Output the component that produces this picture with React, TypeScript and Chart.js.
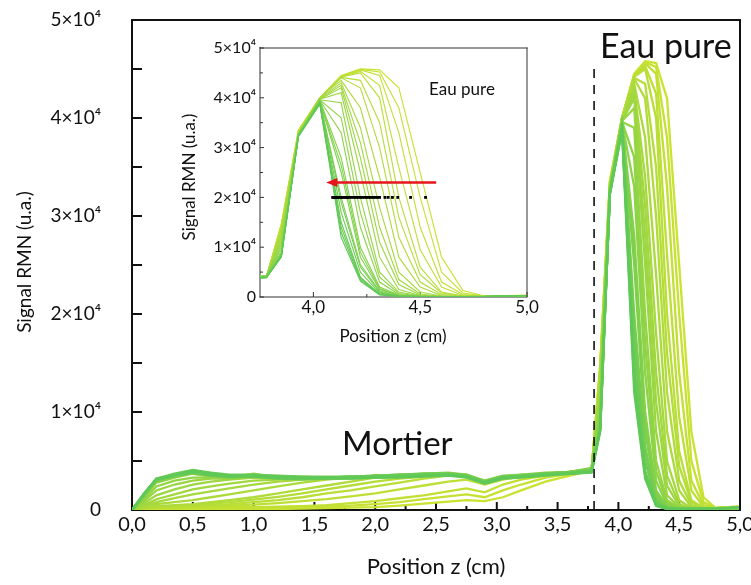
import React, { useEffect, useRef } from "react";
import { Chart, registerables } from "chart.js";

Chart.register(...registerables);

const FONT = "Lato, 'DejaVu Sans', sans-serif";

// Shared grid of positions (cm): mortar part then water-peak part
const positionsCm = [
  0, 0.1, 0.2, 0.35, 0.5, 0.65, 0.8, 1.0, 1.2, 1.4, 1.6, 1.8, 2.0, 2.2, 2.4, 2.6, 2.75, 2.9, 3.05, 3.2, 3.4, 3.6, 3.78,
  3.85, 3.93, 4.03, 4.13, 4.22, 4.31, 4.4, 4.5, 4.6, 4.7, 4.8, 4.9, 5.0,
];

// NMR profiles, named after their half-height front; earliest (yellow) first, latest (green) last
const front453 = [0, 100, 150, 100, 150, 100, 100, 150, 100, 150, 200, 250, 300, 450, 650, 850, 1000, 900, 1300, 2000, 2900, 3500, 4000,
  14800, 33500, 40000, 44500, 45800, 45600, 42000, 25000, 8000, 1300, 200, 300, 400];
const front450 = [0, 100, 200, 150, 200, 150, 200, 200, 250, 300, 350, 450, 600, 800, 1100, 1400, 1600, 1300, 2000, 2600, 3300, 3700, 4100,
  14600, 33500, 40000, 44400, 45700, 45200, 38000, 20000, 5000, 800, 200, 300, 300];
const front446 = [0, 150, 200, 200, 250, 250, 300, 300, 350, 400, 500, 700, 900, 1200, 1500, 1900, 2200, 1800, 2600, 3100, 3500, 3700, 4100,
  14500, 33500, 40000, 44300, 45600, 44500, 33000, 14000, 3000, 500, 200, 300, 300];
const front443 = [0, 150, 250, 250, 300, 400, 450, 550, 700, 900, 1100, 1400, 1700, 2100, 2500, 2900, 3100, 2600, 3100, 3400, 3600, 3800, 4200,
  14300, 33200, 40000, 44300, 45300, 42500, 26000, 9500, 2000, 300, 200, 300, 300];
const front440 = [0, 200, 300, 300, 400, 500, 600, 800, 1000, 1300, 1700, 2000, 2400, 2800, 3200, 3500, 3400, 2900, 3300, 3500, 3700, 3800, 4100,
  14000, 33000, 40000, 44200, 45000, 40000, 20000, 6000, 1000, 200, 200, 300, 300];
const front438 = [0, 200, 350, 400, 500, 650, 800, 1050, 1350, 1700, 2100, 2500, 2900, 3200, 3400, 3600, 3500, 2900, 3400, 3500, 3700, 3900, 4200,
  13800, 33000, 40000, 44100, 43500, 35000, 16000, 4500, 800, 200, 200, 300, 200];
const front436 = [0, 250, 400, 500, 600, 800, 1000, 1300, 1700, 2100, 2500, 2900, 3300, 3400, 3500, 3600, 3500, 2900, 3300, 3500, 3700, 3800, 4100,
  13500, 33000, 40000, 44000, 42000, 30000, 12000, 3000, 500, 200, 200, 300, 200];
const front433 = [0, 300, 600, 800, 1000, 1300, 1600, 2000, 2400, 2800, 3100, 3300, 3300, 3400, 3500, 3600, 3500, 2900, 3400, 3500, 3700, 3800, 4000,
  13000, 33000, 40000, 43500, 38000, 24000, 8000, 2000, 300, 100, 200, 200, 200];
const front430 = [0, 400, 800, 1200, 1600, 1900, 2200, 2600, 2900, 3100, 3200, 3300, 3400, 3500, 3600, 3600, 3500, 2900, 3400, 3500, 3700, 3900, 4200,
  12500, 33000, 39800, 43000, 34000, 18000, 5000, 1000, 200, 100, 200, 200, 200];
const front428 = [0, 500, 1100, 1600, 2100, 2400, 2700, 3000, 3100, 3200, 3300, 3300, 3400, 3500, 3600, 3700, 3500, 3000, 3400, 3500, 3700, 3900, 4100,
  12000, 33000, 39800, 42500, 31000, 14000, 3500, 600, 100, 100, 200, 200, 200];
const front426 = [0, 700, 1500, 2100, 2600, 2900, 3100, 3300, 3200, 3200, 3300, 3300, 3400, 3500, 3600, 3700, 3500, 2900, 3400, 3500, 3700, 3800, 4000,
  11500, 32800, 39700, 42000, 28000, 11000, 2500, 400, 100, 100, 100, 200, 200];
const front424 = [0, 900, 2000, 2600, 3000, 3200, 3200, 3400, 3300, 3200, 3300, 3300, 3400, 3500, 3600, 3700, 3600, 2900, 3400, 3500, 3700, 3900, 4200,
  11000, 32800, 39700, 41000, 25000, 8000, 1500, 300, 100, 100, 100, 200, 200];
const front422 = [0, 1100, 2400, 3000, 3300, 3300, 3300, 3700, 3300, 3200, 3300, 3400, 3400, 3500, 3600, 3600, 3500, 2900, 3400, 3500, 3700, 3900, 4100,
  10500, 32700, 39600, 39000, 20000, 5000, 1000, 200, 100, 100, 100, 200, 200];
const front420 = [0, 1300, 2800, 3300, 3700, 3400, 3300, 3500, 3300, 3200, 3300, 3300, 3500, 3500, 3600, 3700, 3500, 2900, 3400, 3500, 3700, 3900, 4200,
  10000, 32700, 39600, 36000, 17000, 4000, 700, 200, 100, 100, 100, 200, 200];
const front418 = [0, 1400, 2900, 3400, 3800, 3500, 3400, 3400, 3300, 3300, 3300, 3300, 3400, 3600, 3600, 3700, 3600, 2900, 3400, 3600, 3700, 3900, 4300,
  9500, 32600, 39500, 33000, 14000, 3000, 500, 100, 100, 100, 100, 200, 200];
const front416 = [0, 1400, 3000, 3500, 3900, 3500, 3400, 3500, 3300, 3300, 3200, 3300, 3400, 3500, 3700, 3700, 3500, 2900, 3400, 3500, 3700, 3800, 4100,
  9000, 32600, 39500, 28000, 10000, 2000, 400, 100, 100, 100, 100, 200, 200];
const front415 = [0, 1450, 3000, 3600, 4000, 3600, 3500, 3600, 3400, 3400, 3300, 3400, 3500, 3600, 3700, 3800, 3600, 3000, 3500, 3600, 3800, 3900, 4200,
  8900, 32500, 39400, 26500, 9000, 1700, 300, 100, 100, 100, 100, 200, 200];
const front414 = [0, 1500, 3000, 3400, 3800, 3600, 3400, 3400, 3300, 3300, 3300, 3300, 3500, 3500, 3600, 3600, 3500, 2800, 3300, 3500, 3600, 3800, 4000,
  8800, 32500, 39400, 25000, 8000, 1500, 300, 100, 100, 100, 100, 200, 200];
const front4125 = [0, 1500, 3100, 3500, 3900, 3500, 3300, 3400, 3200, 3100, 3200, 3200, 3300, 3400, 3500, 3600, 3400, 2700, 3200, 3400, 3600, 3700, 3900,
  8400, 32400, 39300, 20000, 6500, 1200, 200, 100, 100, 100, 100, 200, 200];
const front412 = [0, 1500, 3000, 3500, 3900, 3600, 3400, 3500, 3300, 3200, 3300, 3400, 3400, 3500, 3600, 3700, 3500, 2800, 3300, 3500, 3700, 3800, 4000,
  8500, 32500, 39300, 19000, 6000, 1000, 200, 100, 100, 100, 100, 200, 200];
const front411 = [0, 1600, 3100, 3600, 4000, 3600, 3500, 3500, 3400, 3300, 3300, 3400, 3400, 3500, 3600, 3600, 3500, 2800, 3300, 3400, 3700, 3800, 3900,
  8300, 32400, 39200, 17000, 5000, 800, 200, 100, 100, 100, 100, 200, 300];
const front4105 = [0, 1650, 3200, 3700, 4100, 3800, 3600, 3600, 3500, 3400, 3400, 3400, 3500, 3600, 3700, 3700, 3500, 2900, 3400, 3500, 3700, 3900, 4100,
  8150, 32300, 38900, 14000, 3800, 600, 100, 100, 100, 100, 100, 200, 300];
const front410 = [0, 1600, 3100, 3500, 3900, 3700, 3500, 3500, 3300, 3300, 3300, 3300, 3400, 3400, 3500, 3600, 3400, 2800, 3300, 3400, 3600, 3800, 3900,
  8200, 32400, 39000, 15000, 4000, 600, 200, 100, 100, 100, 100, 200, 300];
const front4095 = [0, 1700, 3100, 3500, 3800, 3500, 3400, 3400, 3200, 3200, 3200, 3200, 3300, 3300, 3400, 3500, 3300, 2700, 3200, 3300, 3500, 3700, 3800,
  8000, 32200, 38700, 12000, 3200, 400, 100, 100, 100, 100, 100, 200, 300];
const front409 = [0, 1700, 3200, 3600, 4000, 3700, 3500, 3500, 3400, 3300, 3300, 3300, 3400, 3400, 3500, 3600, 3400, 2800, 3300, 3400, 3600, 3700, 3900,
  8100, 32300, 38800, 13000, 3500, 500, 100, 100, 100, 100, 100, 200, 300];

const profiles = [
  front453, front450, front446, front443, front440, front438, front436, front433, front430, front428, front426, front424,
  front422, front420, front418, front416, front415, front414, front4125, front412, front411, front4105, front410, front4095, front409,
];

// Half-height front positions (black dots in the inset)
const halfHeightPositions = [
  4.09, 4.095, 4.1, 4.105, 4.11, 4.115, 4.12, 4.13, 4.135, 4.14, 4.15, 4.155, 4.16, 4.17, 4.18, 4.19, 4.2,
  4.21, 4.22, 4.23, 4.24, 4.25, 4.26, 4.27, 4.28, 4.29, 4.3, 4.31, 4.335, 4.35, 4.37, 4.395, 4.455, 4.525,
];
const halfHeightLevel = 20000;

const interfacePosition = 3.8;
const interfaceTop = 45000;

const arrowFrom = 4.575;
const arrowTo = 4.06;
const arrowLevel = 23000;

const mainXTicks = [0, 0.5, 1.0, 1.5, 2.0, 2.5, 3.0, 3.5, 4.0, 4.5, 5.0];
const mainYTicks = [0, 10000, 20000, 30000, 40000, 50000];
const insetXTicks = [4.0, 4.5, 5.0];
const insetYTicks = [0, 10000, 20000, 30000, 40000, 50000];

const yellowRGB = [202, 226, 48];
const greenRGB = [94, 200, 88];

function profileColor(i: number) {
  const t = i / (profiles.length - 1);
  const c = yellowRGB.map((y, k) => Math.round(y + (greenRGB[k] - y) * t));
  return `rgb(${c[0]},${c[1]},${c[2]})`;
}

function sciLabel(v: number) {
  return v === 0 ? "0" : `${Math.round(v / 10000)}×10⁴`;
}
function commaLabel(v: number) {
  return Number(v).toFixed(1).replace(".", ",");
}

function profileDatasets(width: number) {
  return profiles.map((p, i) => ({
    type: "line" as const,
    data: p.map((v, k) => ({ x: positionsCm[k], y: v })),
    borderColor: profileColor(i),
    backgroundColor: profileColor(i),
    borderWidth: width,
    pointRadius: 0,
    tension: 0,
    fill: false,
    order: profiles.length - i,
  }));
}

type DecoOpts = {
  color: string;
  frame: [number, number, number, number]; // left, top, right, bottom widths
  xMajorLen: number;
  xMinorLen: number;
  yMajorLen: number;
  yMinorLen: number;
  tickWidth: number;
};

function frameBox(chart: any) {
  const xs = chart.scales.x;
  const ys = chart.scales.y;
  return {
    xs,
    ys,
    L: Math.round(xs.getPixelForValue(xs.min)),
    R: Math.round(xs.getPixelForValue(xs.max)),
    T: Math.round(ys.getPixelForValue(ys.max)),
    B: Math.round(ys.getPixelForValue(ys.min)),
  };
}

function decorPlugin(o: DecoOpts) {
  return {
    id: "decor",
    beforeDatasetsDraw(chart: any) {
      const ctx = chart.ctx;
      const { xs, ys, L, R, T, B } = frameBox(chart);
      ctx.save();
      ctx.strokeStyle = o.color;
      ctx.lineWidth = o.tickWidth;
      const xv = xs.ticks.map((t: any) => t.value);
      const yv = ys.ticks.map((t: any) => t.value);
      const vline = (v: number, len: number) => {
        const px = xs.getPixelForValue(v);
        ctx.beginPath();
        ctx.moveTo(px, B);
        ctx.lineTo(px, B - len);
        ctx.stroke();
      };
      const hline = (v: number, len: number) => {
        const py = ys.getPixelForValue(v);
        ctx.beginPath();
        ctx.moveTo(L, py);
        ctx.lineTo(L + len, py);
        ctx.stroke();
      };
      xv.forEach((v: number, i: number) => {
        vline(v, o.xMajorLen);
        if (i > 0) vline((v + xv[i - 1]) / 2, o.xMinorLen);
      });
      yv.forEach((v: number, i: number) => {
        hline(v, o.yMajorLen);
        if (i > 0) hline((v + yv[i - 1]) / 2, o.yMinorLen);
      });
      const [l, , , b] = o.frame;
      ctx.fillStyle = o.color;
      ctx.fillRect(L - l / 2, T - 1, l, B - T + 1 + b / 2);
      ctx.fillRect(L - l / 2, B - b / 2, R - L + l / 2, b);
      ctx.restore();
    },
    afterDraw(chart: any) {
      const ctx = chart.ctx;
      const { L, R, T, B } = frameBox(chart);
      const [l, t, r, b] = o.frame;
      ctx.save();
      ctx.fillStyle = o.color;
      ctx.fillRect(L - l / 2, T - t / 2, R - L + l / 2 + r / 2, t);
      ctx.fillRect(R - r / 2, T - t / 2, r, B - T + t / 2 + b / 2);
      ctx.restore();
    },
  };
}

type TextItem = { text: string; x: number; y: number; size: number; align?: CanvasTextAlign; baseline?: CanvasTextBaseline; rotate?: boolean };

function textPlugin(items: TextItem[]) {
  return {
    id: "texts",
    afterDraw(chart: any) {
      const ctx = chart.ctx;
      items.forEach((it) => {
        ctx.save();
        ctx.fillStyle = "#111";
        ctx.font = `${it.size}px ${FONT}`;
        ctx.textAlign = it.align || "center";
        ctx.textBaseline = it.baseline || "middle";
        ctx.translate(it.x, it.y);
        if (it.rotate) ctx.rotate(-Math.PI / 2);
        ctx.fillText(it.text, 0, 0);
        ctx.restore();
      });
    },
  };
}

const arrowPlugin = {
  id: "arrow",
  afterDatasetsDraw(chart: any) {
    const { ctx, scales } = chart;
    const x1 = scales.x.getPixelForValue(arrowFrom);
    const x2 = scales.x.getPixelForValue(arrowTo);
    const y = scales.y.getPixelForValue(arrowLevel);
    ctx.save();
    ctx.strokeStyle = "#e5151b";
    ctx.fillStyle = "#e5151b";
    ctx.lineWidth = 2.4;
    ctx.beginPath();
    ctx.moveTo(x1, y);
    ctx.lineTo(x2 + 9, y);
    ctx.stroke();
    ctx.beginPath();
    ctx.moveTo(x2, y);
    ctx.lineTo(x2 + 11, y - 4.5);
    ctx.lineTo(x2 + 11, y + 4.5);
    ctx.closePath();
    ctx.fill();
    ctx.restore();
  },
};

function axisScales(o: {
  xMin: number; xMax: number; xTicks: number[]; yTicks: number[];
  xHeight: number; yWidth: number; xSize: number; ySize: number; xPad: number; yPad: number;
}) {
  return {
    x: {
      type: "linear" as const,
      min: o.xMin,
      max: o.xMax,
      afterBuildTicks: (s: any) => { s.ticks = o.xTicks.map((value) => ({ value })); },
      afterFit: (s: any) => { s.height = o.xHeight; s.paddingLeft = 0; s.paddingRight = 0; },
      grid: { display: false, drawTicks: false },
      border: { display: false },
      ticks: {
        padding: o.xPad,
        autoSkip: false,
        maxRotation: 0,
        color: "#111",
        font: { family: FONT, size: o.xSize },
        callback: (v: any) => commaLabel(Number(v)),
      },
    },
    y: {
      type: "linear" as const,
      min: 0,
      max: 50000,
      afterBuildTicks: (s: any) => { s.ticks = o.yTicks.map((value) => ({ value })); },
      afterFit: (s: any) => { s.width = o.yWidth; s.paddingTop = 0; s.paddingBottom = 0; },
      grid: { display: false, drawTicks: false },
      border: { display: false },
      ticks: {
        padding: o.yPad,
        autoSkip: false,
        color: "#111",
        font: { family: FONT, size: o.ySize },
        callback: (v: any) => sciLabel(Number(v)),
      },
    },
  };
}

export default function App() {
  const mainRef = useRef<HTMLCanvasElement>(null);
  const insetRef = useRef<HTMLCanvasElement>(null);

  useEffect(() => {
    const main = new Chart(mainRef.current as HTMLCanvasElement, {
      type: "line",
      data: {
        datasets: [
          ...profileDatasets(2.3),
          {
            type: "line",
            data: [{ x: interfacePosition, y: 0 }, { x: interfacePosition, y: interfaceTop }],
            borderColor: "#111",
            borderWidth: 1.6,
            borderDash: [9, 7],
            pointRadius: 0,
            order: 0,
          },
        ] as any,
      },
      options: {
        animation: false,
        responsive: false,
        devicePixelRatio: 1,
        layout: { padding: { top: 20, right: 11, bottom: 0, left: 0 } },
        plugins: { legend: { display: false }, tooltip: { enabled: false } },
        scales: axisScales({
          xMin: 0, xMax: 5, xTicks: mainXTicks, yTicks: mainYTicks,
          xHeight: 75, yWidth: 132, xSize: 20, ySize: 19, xPad: 3, yPad: 31,
        }) as any,
      },
      plugins: [
        decorPlugin({ color: "#111", frame: [2, 2, 2, 2], xMajorLen: 8, xMinorLen: 4, yMajorLen: 10, yMinorLen: 10, tickWidth: 2 }),
        textPlugin([
          { text: "Position z (cm)", x: 436, y: 567, size: 22 },
          { text: "Signal RMN (u.a.)", x: 25, y: 262, size: 19, rotate: true },
          { text: "Eau pure", x: 600, y: 58, size: 34, align: "left", baseline: "alphabetic" },
          { text: "Mortier", x: 342, y: 455, size: 33, align: "left", baseline: "alphabetic" },
        ]),
      ],
    });

    const inset = new Chart(insetRef.current as HTMLCanvasElement, {
      type: "line",
      data: {
        datasets: [
          ...profileDatasets(1.1),
          {
            type: "line",
            data: halfHeightPositions.map((x) => ({ x, y: halfHeightLevel })),
            showLine: false,
            pointStyle: "rect",
            pointRadius: 2,
            pointBorderWidth: 0,
            backgroundColor: "#000",
            borderColor: "#000",
            order: 0,
          },
        ] as any,
      },
      options: {
        animation: false,
        responsive: false,
        devicePixelRatio: 1,
        layout: { padding: { top: 18, right: 13, bottom: 0, left: 0 } },
        plugins: { legend: { display: false }, tooltip: { enabled: false } },
        scales: axisScales({
          xMin: 3.75, xMax: 5, xTicks: insetXTicks, yTicks: insetYTicks,
          xHeight: 53, yWidth: 90, xSize: 17, ySize: 16, xPad: 0, yPad: 4,
        }) as any,
      },
      plugins: [
        decorPlugin({ color: "#333", frame: [1, 1, 1, 1], xMajorLen: 5, xMinorLen: 3, yMajorLen: 4, yMinorLen: 3, tickWidth: 1 }),
        arrowPlugin,
        textPlugin([
          { text: "Position z (cm)", x: 223, y: 307, size: 17 },
          { text: "Signal RMN (u.a.)", x: 20, y: 147, size: 17, rotate: true },
          { text: "Eau pure", x: 292, y: 60, size: 17 },
        ]),
      ],
    });

    return () => {
      main.destroy();
      inset.destroy();
    };
  }, []);

  return (
    <div style={{ position: "absolute", left: 0, top: 0, width: 751, height: 585, background: "#fff" }}>
      <canvas ref={mainRef} width={751} height={585} style={{ position: "absolute", left: 0, top: 0, width: 751, height: 585 }} />
      <canvas ref={insetRef} width={370} height={320} style={{ position: "absolute", left: 170, top: 30, width: 370, height: 320 }} />
    </div>
  );
}
